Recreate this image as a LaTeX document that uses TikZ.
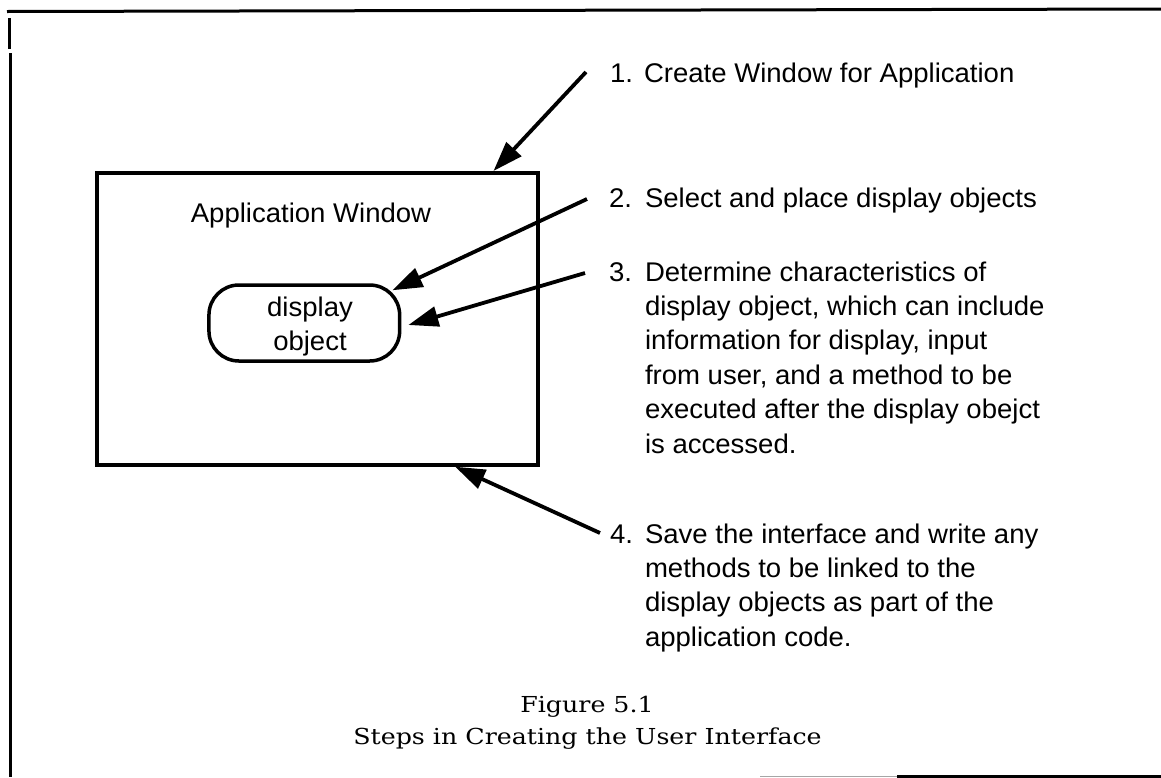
\documentclass[tikz,border=0pt]{standalone}
\usepackage{fontspec}
\newfontfamily\diagfont{Liberation Sans}
\newfontfamily\capfont{DejaVu Serif}
\usetikzlibrary{arrows.meta,calc}
\tikzset{
  txt/.style={font=\diagfont\fontsize{27}{32}\selectfont, inner sep=0pt, outer sep=0pt, xscale=1.02},
  ln/.style={txt, anchor=base west},
  ctr/.style={txt, anchor=base},
  captxt/.style={font=\capfont\fontsize{22}{26}\selectfont, inner sep=0pt, outer sep=0pt, anchor=base, xscale=1.15},
  frameline/.style={line width=3pt},
  pointer/.style={line width=3.8pt, -{Triangle[length=30pt,width=20pt]}},
  winbox/.style={draw, line width=4pt, inner sep=0pt, minimum width=440.5pt, minimum height=291.7pt},
  objbox/.style={draw, line width=3.5pt, rounded corners=30pt, inner sep=0pt, minimum width=190.7pt, minimum height=76pt},
}
\begin{document}
\begin{tikzpicture}[x=1pt,y=-1pt]
\useasboundingbox (0,0) rectangle (1161,777);
% page frame
\draw[frameline] (7,11.5) -- (1161,9);
\draw[frameline] (9,18) -- (9,49);
\draw[frameline] (10,53) -- (10,777);
\draw[line width=1pt, black!35] (760,776) -- (897,776);
\draw[frameline] (897,776) -- (1161,776);

% window and display object
\node[winbox] (win) at (317.25,318.85) {};
\node[ctr] (wintitle) at (311,222.7) {Application Window};
\node[objbox] (obj) at (304.3,323) {};
\node[ctr] (objl1) at (310,316.7) {display};
\node[ctr] (objl2) at (310,350) {object};

% step 1
\node[ln] (n1) at (610,82) {1.};
\node[ln] (s1) at (644,82) {Create Window for Application};
% step 2
\node[ln] (n2) at (609,207) {2.};
\node[ln] (s2) at (645,207) {Select and place display objects};
% step 3
\node[ln] (n3) at (609,281) {3.};
\node[ln] (s3a) at (645,281) {Determine characteristics of};
\node[ln] (s3b) at (645,315.4) {display object, which can include};
\node[ln] (s3c) at (645,349.8) {information for display, input};
\node[ln] (s3d) at (645,384.2) {from user, and a method to be};
\node[ln] (s3e) at (645,418.6) {executed after the display obejct};
\node[ln] (s3f) at (645,453) {is accessed.};
% step 4
\node[ln] (n4) at (610,543) {4.};
\node[ln] (s4a) at (645,543) {Save the interface and write any};
\node[ln] (s4b) at (645,577.4) {methods to be linked to the};
\node[ln] (s4c) at (645,611.8) {display objects as part of the};
\node[ln] (s4d) at (645,646.2) {application code.};

% arrows
\coordinate (t1) at (586,72);
\coordinate (t2) at (587,199);
\coordinate (t3) at (585,273);
\coordinate (t4) at (600,533);
\draw[pointer] (t1) -- (win.40.67);
\draw[pointer] (t2) -- ($(obj.north east)+(-9,7)$);
\draw[pointer] (t3) -- ($(obj.east)+(7,2)$);
\draw[pointer] (t4) -- (win.-47);

% caption
\node[captxt] (cap1) at (587,712) {Figure 5.1};
\node[captxt] (cap2) at (587.5,744) {Steps in Creating the User Interface};
\end{tikzpicture}
\end{document}
